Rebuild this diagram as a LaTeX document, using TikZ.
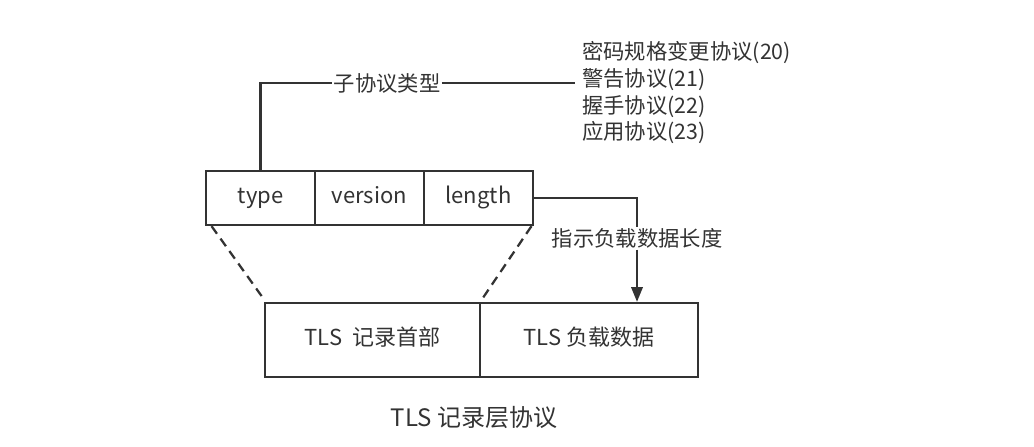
\documentclass[tikz,border=0pt]{standalone}
\usepackage{fontspec}
\setmainfont{Noto Sans CJK SC}
\usetikzlibrary{arrows.meta}
\definecolor{linegray}{HTML}{333333}
\tikzset{
  field/.style={draw=linegray, line width=1.7pt, minimum width=81.75pt, minimum height=40.5pt,
                inner sep=0pt, text=linegray, text height=12pt, text depth=3.5pt,
                font=\fontsize{16.5}{20}\selectfont},
  recbox/.style={field, minimum height=55.5pt},
  tag/.style={fill=white, inner sep=1pt, text=linegray, font=\fontsize{16}{20}\selectfont},
  conn/.style={draw=linegray, line width=1.7pt},
  dashconn/.style={conn, dash pattern=on 7pt off 4.5pt},
}

\begin{document}
\begin{tikzpicture}[x=0.75pt, y=-0.75pt]
    \useasboundingbox (0,0) rectangle (1034,446);
    \node[field] (type) at (260.5, 198) {type};
    \node[field] (ver) at (369.5, 198) {version};
    \node[field] (len) at (478.5, 198) {length};
    \node[recbox, minimum width=161.25pt] (hdr) at (372.5, 340) {TLS~~记录首部};
    \node[recbox, minimum width=163.5pt] (load) at (589, 340) {TLS 负载数据};
    \node[tag] (sub) at (387, 83) {子协议类型};
    \coordinate (subend) at (575, 83);
    \node[tag, align=left, anchor=west, inner sep=0pt] (kinds) at (582, 93) {密码规格变更协议(20)\\警告协议(21)\\握手协议(22)\\应用协议(23)};
    \node[tag] (lenlbl) at (637, 238) {指示负载数据长度};
    \node[tag, font=\fontsize{18}{22}\selectfont] (title) at (474, 417) {TLS 记录层协议};
    \draw[conn] (type.north) |- (sub.west);
    \draw[conn] (sub.east) -- (subend);
    \draw[conn] (len.east) -| (lenlbl.north);
    \draw[conn, -{Triangle[length=11pt, width=8.5pt]}] (lenlbl.south) -- (lenlbl.south |- load.north);
    \draw[dashconn] ([xshift=5pt]type.south west) -- ([yshift=2pt]hdr.north west);
    \draw[dashconn] ([xshift=-2pt]len.south east) -- ([yshift=1pt]hdr.north east);
  \end{tikzpicture}
\end{document}
